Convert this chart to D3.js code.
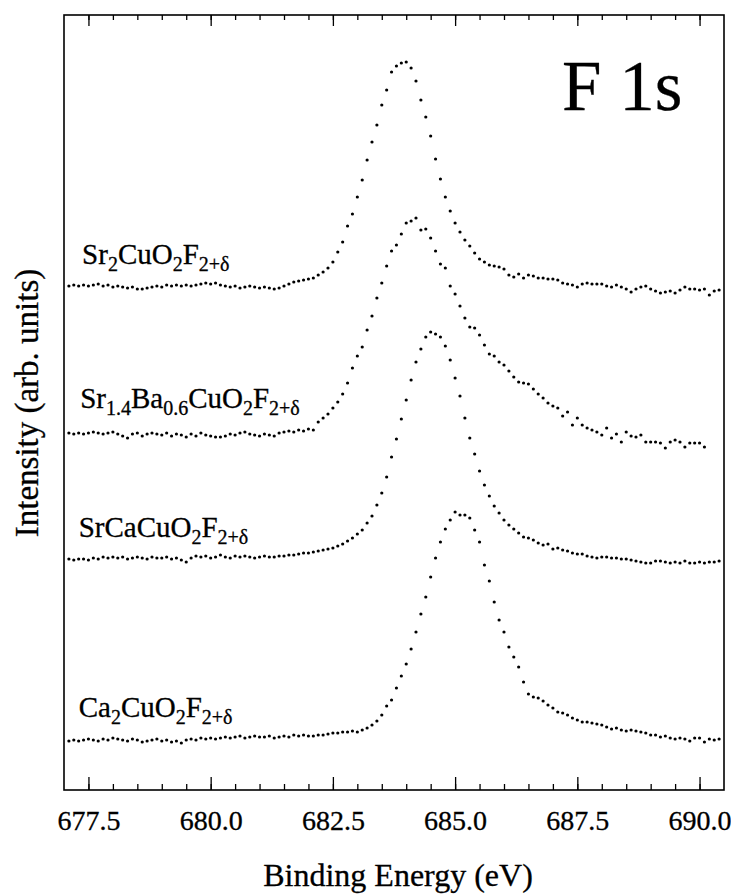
<!DOCTYPE html>
<html>
<head>
<meta charset="utf-8">
<script src="https://d3js.org/d3.v7.min.js"></script>
<style>
body { margin: 0; background: #fff; }
text { font-family: "Liberation Serif", serif; fill: #000; stroke: #000; stroke-width: 0.3px; }
</style>
</head>
<body>
<script>
// F 1s spectra, 0.1 eV steps, intensities in arb. units (curves already offset)
var e0 = 677.1, step = 0.1;

var sr2 = [504,505,504,505,504,505,506,504,505,503,
504,503,502,503,501,501,502,503,504,503,
505,504,505,504,505,504,505,506,507,506,
507,505,504,503,504,502,503,504,503,502,
503,502,501,502,504,506,508,
509,510,511,512,515,518,522,528,538,548,
564,576,593,610,630,648,665,685,700,718,
724,727,728,722,709,690,673,654,631,611,
593,579,567,558,550,544,537,531,528,525,
524,523,521,515,513,516,512,515,514,512,
512,511,511,510,507,506,505,503,506,507,
506,506,506,504,503,505,503,501,498,501,
503,504,501,499,497,498,499,497,500,503,
501,501,500,501,495,499,500];

var srba = [357,356,357,356,357,358,357,356,357,358,356,
354,352,356,357,354,356,
357,356,355,357,354,356,355,353,356,354,357,355,354,353,
353,354,356,355,357,358,356,355,354,356,
355,354,357,358,359,358,360,359,361,
360,368,372,376,382,388,396,407,422,434,
443,460,474,492,507,524,539,545,556,567,
569,572,560,561,552,539,526,522,504,496,
484,472,463,462,455,445,436,434,428,425,
419,413,408,407,406,401,396,392,387,384,
382,374,378,365,372,365,362,360,358,355,
362,352,356,348,358,354,353,355,348,348,
348,347,342,348,350,348,343,347,347,347,343];

var srca = [231,230,231,231,230,232,231,233,232,233,
232,233,231,232,233,232,231,233,232,
232,233,231,232,230,228,232,
234,233,234,232,233,235,233,232,234,233,
234,233,232,233,234,233,233,234,234,235,
235,236,237,237,238,
239,240,241,242,244,246,249,252,256,260,
267,274,285,297,313,333,351,371,390,410,
428,441,453,458,456,453,444,430,412,394,
372,352,336,319,305,294,284,277,270,265,
261,257,253,252,250,247,245,246,241,242,
240,239,237,236,236,234,233,232,233,233,
232,232,231,231,230,229,228,227,227,229,
229,228,227,228,227,229,227,227,228,227,228,228,229];

var ca2 = [49,50,49,50,51,50,49,51,50,52,
51,50,49,51,50,48,49,50,51,49,
50,48,49,47,50,51,50,52,51,52,
51,52,53,52,53,54,52,53,54,53,
53,54,52,53,54,53,55,54,55,54,
54,55,55,56,57,57,58,58,59,58,
60,62,65,69,75,84,90,102,114,126,
141,158,176,193,213,232,248,261,270,278,
275,275,272,260,248,225,209,188,170,158,
143,133,123,108,96,93,92,89,85,82,
78,77,75,72,70,68,68,67,66,65,
63,61,62,60,59,60,59,58,57,55,
55,53,54,52,51,52,51,49,52,52,48,51,50,51];

// label pieces: [text, subscript?]
var labels = [
  {parts: [["Sr",0],["2",1],["CuO",0],["2",1],["F",0],["2+δ",1]], x: 677.37, y: 526},
  {parts: [["Sr",0],["1.4",1],["Ba",0],["0.6",1],["CuO",0],["2",1],["F",0],["2+δ",1]], x: 677.33, y: 382},
  {parts: [["SrCaCuO",0],["2",1],["F",0],["2+δ",1]], x: 677.3, y: 253},
  {parts: [["Ca",0],["2",1],["CuO",0],["2",1],["F",0],["2+δ",1]], x: 677.3, y: 73}
];
var series = [sr2, srba, srca, ca2];

var majorTicks = [677.5, 680.0, 682.5, 685.0, 687.5, 690.0];
var minorTicks = d3.range(0, 26).map(function(k){ return 677.5 + k * 0.5; });

var w = 731, h = 894;
var pL = 64, pR = 724, pT = 15, pB = 790;

var svg = d3.select("body").append("svg")
    .attr("width", w)
    .attr("height", h);

var x = d3.scaleLinear().domain([677, 690.5]).range([pL, pR]);
var y = d3.scaleLinear().domain([0, 775]).range([pB, pT]);

// ticks, pointing inward on bottom and top
function tickAxis(g, axis) {
  g.call(axis);
  g.attr("font-family", "Liberation Serif").attr("font-size", 28);
  g.select(".domain").remove();
  g.selectAll(".tick line").attr("stroke", "#000").attr("stroke-width", 1.3);
}

svg.append("g").attr("transform", "translate(0," + pB + ")")
  .call(tickAxis, d3.axisBottom(x).tickValues(minorTicks).tickSize(-6).tickFormat(""));
var xa = svg.append("g").attr("transform", "translate(0," + pB + ")")
  .call(tickAxis, d3.axisBottom(x).tickValues(majorTicks).tickSize(-13).tickPadding(20).tickFormat(d3.format(".1f")));
xa.selectAll(".tick text")
  .style("font-family", "'Liberation Serif', serif")
  .attr("fill", "#000");

svg.append("g").attr("transform", "translate(0," + pT + ")")
  .call(tickAxis, d3.axisTop(x).tickValues(minorTicks).tickSize(-5).tickFormat(""));
svg.append("g").attr("transform", "translate(0," + pT + ")")
  .call(tickAxis, d3.axisTop(x).tickValues(majorTicks).tickSize(-11).tickFormat(""));

// frame
svg.append("rect")
  .attr("x", pL).attr("y", pT)
  .attr("width", pR - pL).attr("height", pB - pT)
  .attr("fill", "none").attr("stroke", "#000").attr("stroke-width", 1.6);

// dots
series.forEach(function(vals) {
  svg.append("g").selectAll("circle")
    .data(vals)
    .enter()
    .append("circle")
    .attr("cx", function(d, i){ return x(e0 + i * step); })
    .attr("cy", function(d){ return y(d); })
    .attr("r", 1.6)
    .attr("fill", "#000");
});

// compound labels
labels.forEach(function(l) {
  var t = svg.append("text")
    .attr("x", x(l.x))
    .attr("y", y(l.y))
    .style("font-size", "29px");
  var shift = 0;
  l.parts.forEach(function(p) {
    var dy = p[1] ? 7 - shift : -shift;
    shift = p[1] ? 7 : 0;
    t.append("tspan")
      .attr("dy", dy)
      .style("font-size", p[1] ? "20px" : "29px")
      .text(p[0]);
  });
});

svg.append("text")
  .attr("x", 562).attr("y", 110)
  .style("font-size", "71px")
  .text("F 1s");

svg.append("text")
  .attr("x", (pL + pR) / 2 + 4).attr("y", 886)
  .attr("text-anchor", "middle")
  .style("font-size", "32px")
  .text("Binding Energy (eV)");

svg.append("text")
  .attr("transform", "translate(38,403) rotate(-90)")
  .attr("text-anchor", "middle")
  .style("font-size", "33px")
  .text("Intensity (arb. units)");
</script>
</body>
</html>
